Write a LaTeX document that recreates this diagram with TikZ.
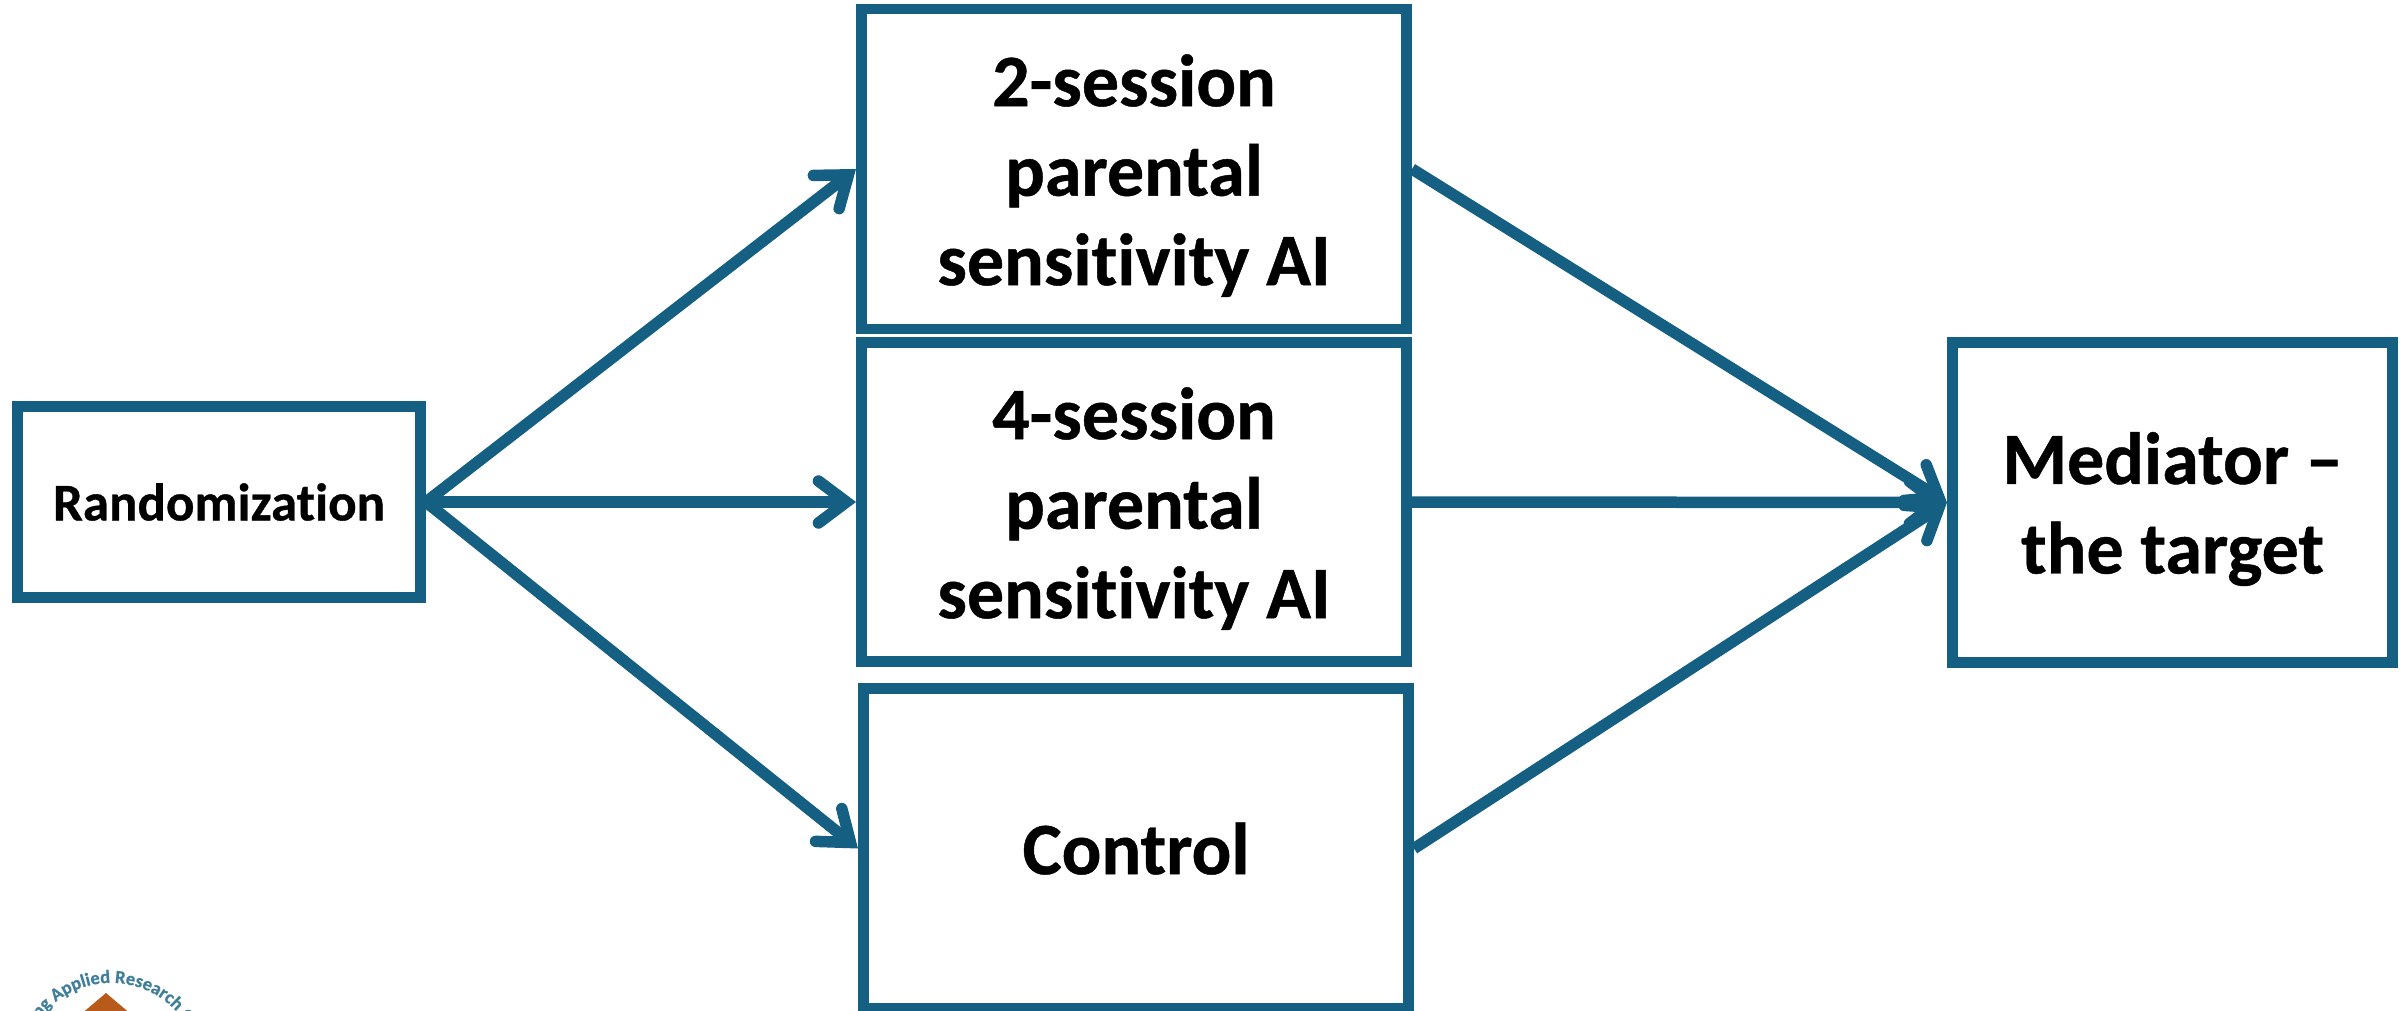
\documentclass[tikz,border=0pt]{standalone}
\usepackage{fontspec}
\setmainfont{Carlito}[Ligatures=NoCommon,BoldFeatures={FakeBold=0.6}]
\usetikzlibrary{arrows.meta,decorations.text}
\definecolor{boxblue}{HTML}{156082}
\definecolor{logoblue}{HTML}{3F7F9A}
\definecolor{logoorange}{HTML}{B85A1A}
\newcommand{\toppad}{\rule{0pt}{65pt}}
\tikzset{
  x=1pt,y=-1pt,
  boxnode/.style={draw=boxblue,line width=10.6pt,inner sep=0pt,align=center,text=black},
  bigtext/.style={font=\fontsize{74}{89.5}\selectfont\bfseries},
  smalltext/.style={font=\fontsize{53}{60}\selectfont\bfseries},
  flow/.style={draw=boxblue,line width=11.5pt,-{Straight Barb[length=28pt,width=42pt,line cap=round,line join=miter]}},
}
\begin{document}
\begin{tikzpicture}
\useasboundingbox (0,0) rectangle (2407,1011);
\clip (0,0) rectangle (2407,1011);
\node[boxnode,smalltext,minimum width=403.4pt,minimum height=191.4pt] (rand) at (219,502) {Randomization};
\node[boxnode,bigtext,minimum width=545.4pt,minimum height=319.9pt] (two) at (1134,169) {\toppad 2-session\\parental\\sensitivity AI};
\node[boxnode,bigtext,minimum width=545.4pt,minimum height=319.4pt] (four) at (1134,502) {\toppad 4-session\\parental\\sensitivity AI};
\node[boxnode,bigtext,minimum width=545.4pt,minimum height=320.4pt] (control) at (1136,848.5) {Control};
\node[boxnode,bigtext,minimum width=440.4pt,minimum height=320.4pt] (mediator) at (2172.5,502.5) {\toppad Mediator --\\the target};
\draw[flow] (rand.east) -- (two.west);
\draw[flow] (rand.east) -- (four.west);
\draw[flow] (rand.east) -- (control.west);
\draw[flow] (two.east) -- (mediator.west);
\draw[flow] (four.east) -- (mediator.west);
\draw[flow] (control.east) -- (mediator.west);
% logo, cut off by the lower edge
\fill[logoorange] (106,993) -- (132,1015) -- (80,1015) -- cycle;
\path[decorate,decoration={text along path,text align=center,
  text={|\fontsize{18.5}{20}\selectfont\bfseries\color{logoblue}|ing Applied Research C}}]
  (34,1027.5) .. controls (68,968) and (154,968) .. (188,1027.5);
\end{tikzpicture}
\end{document}
